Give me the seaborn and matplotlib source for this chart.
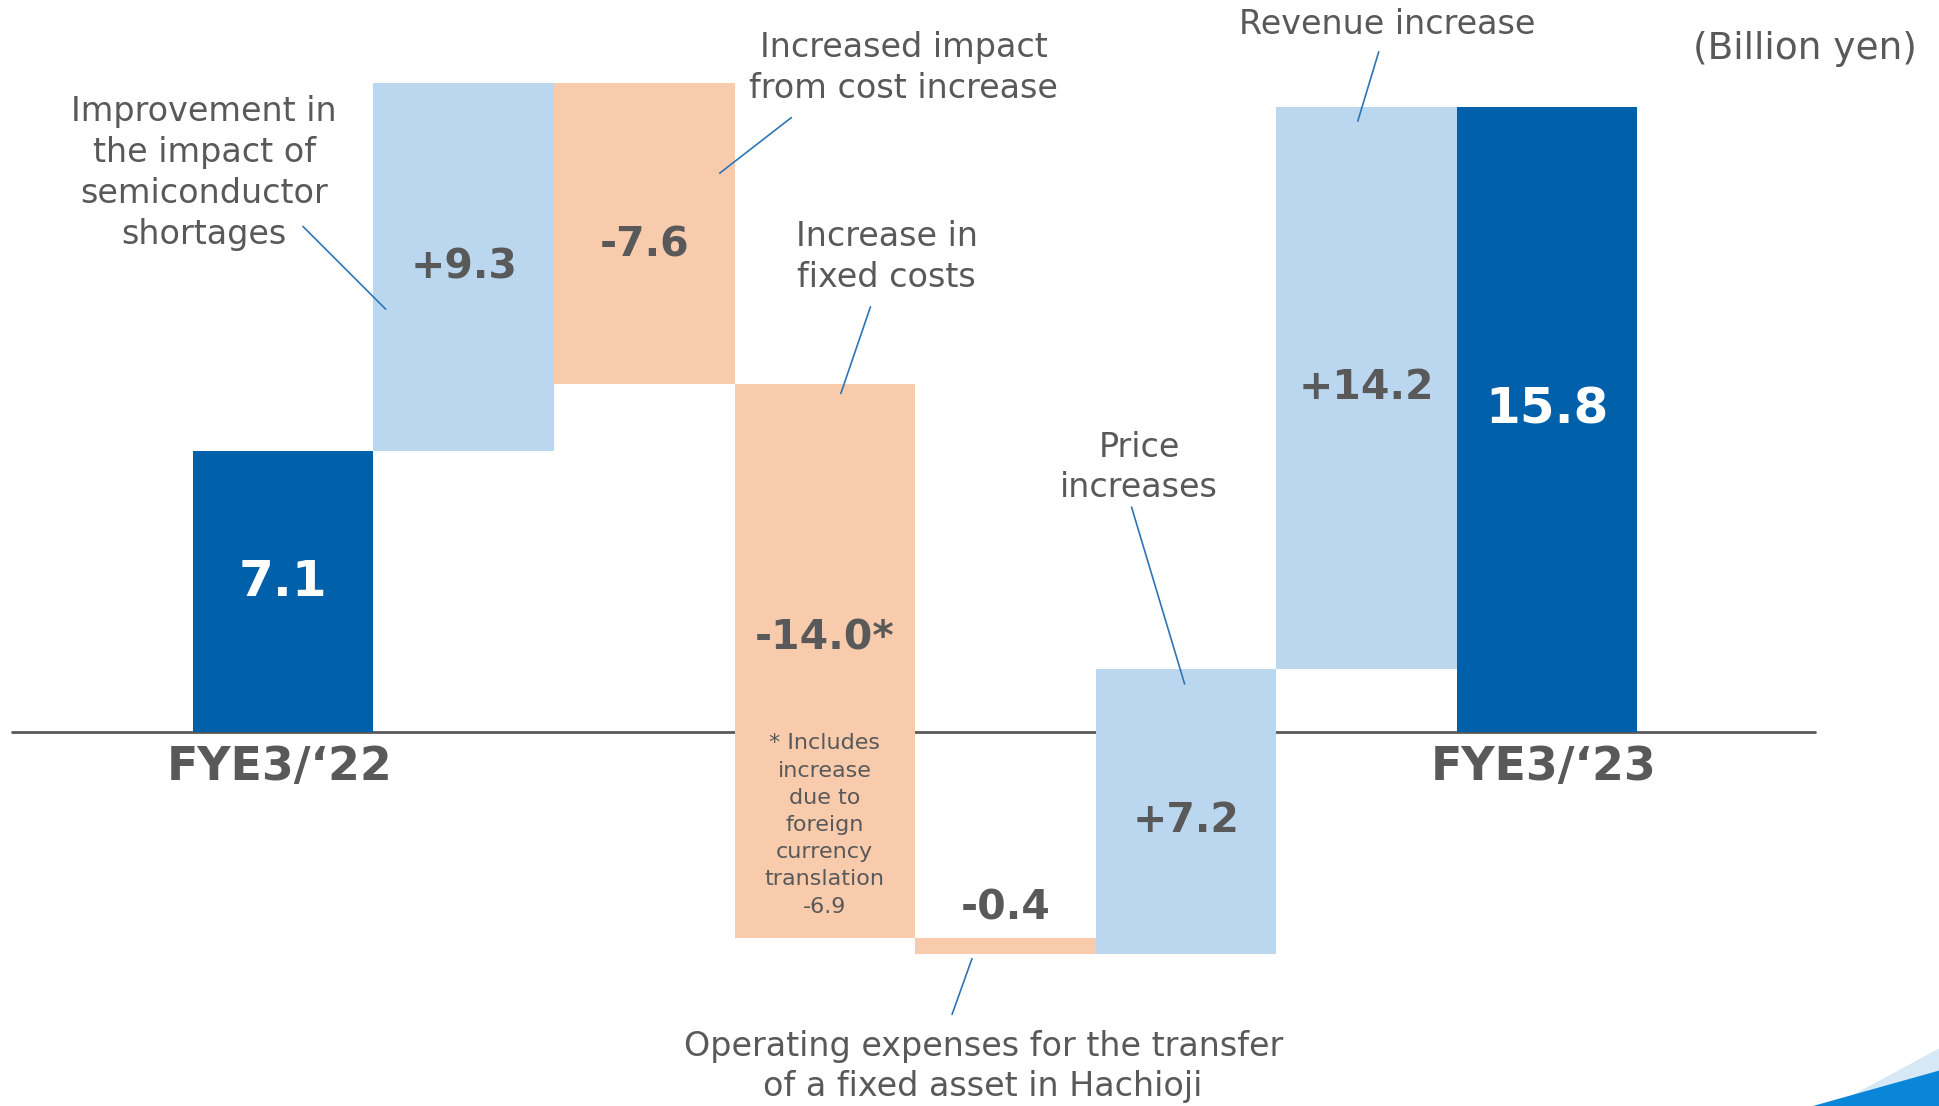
import numpy as np
import seaborn as sns
import matplotlib.pyplot as plt
from matplotlib.patches import Polygon

# Operating income bridge, FYE3/'22 -> FYE3/'23 (billion yen)
steps = ["FYE3/'22", "Semiconductor", "Cost increase", "Fixed costs",
         "Hachioji transfer", "Price increases", "Revenue increase", "FYE3/'23"]
values = [7.1, 9.3, -7.6, -14.0, -0.4, 7.2, 14.2, 15.8]
kinds = ["total", "up", "down", "down", "down", "up", "up", "total"]
value_labels = ["7.1", "+9.3", "-7.6", "-14.0*", "-0.4", "+7.2", "+14.2", "15.8"]
axis_labels = ["FYE3/\u201822", "FYE3/\u201823"]

callouts = [
    "Improvement in\nthe impact of\nsemiconductor\nshortages",
    "Increased impact\nfrom cost increase",
    "Increase in\nfixed costs",
    "Operating expenses for the transfer\nof a fixed asset in Hachioji",
    "Price\nincreases",
    "Revenue increase",
]
footnote = "* Includes\nincrease\ndue to\nforeign\ncurrency\ntranslation\n-6.9"
unit_label = "(Billion yen)"

DARK = "#0061AA"
LIGHT = "#BAD7EF"
PEACH = "#F7CBAC"
GRAY = "#595959"
LEADER = "#2E75B6"

sns.set_theme(style="white")
plt.rcParams["font.family"] = ["DejaVu Sans"]

fig = plt.figure(figsize=(19.39, 11.06), dpi=100)
ax = fig.add_axes([0, 0, 1, 1])
ax.set_xlim(-1.568, 9.171)
ax.set_ylim(-9.44, 18.5)
ax.axis("off")

# waterfall geometry from the running total
bottoms, heights = [], []
running = 0.0
for v, k in zip(values, kinds):
    if k == "total":
        bottoms.append(0.0)
        heights.append(v)
        running = v
    else:
        bottoms.append(running)
        heights.append(v)
        running += v

colors = [DARK if k == "total" else LIGHT if k == "up" else PEACH for k in kinds]
x = np.arange(len(values))

ax.plot([-1.5, 8.486], [0, 0], color=GRAY, lw=2.0, zorder=1)
ax.bar(x, heights, bottom=bottoms, width=1.0, color=colors, linewidth=0, zorder=2)

# value labels (a few nudged to sit where the original puts them)
nudge = {2: -0.3, 5: -0.25}
for i, (lab, k) in enumerate(zip(value_labels, kinds)):
    cy = bottoms[i] + heights[i] / 2
    if k == "total":
        ax.text(x[i], cy + 0.25, lab, ha="center", va="center", color="white",
                fontsize=36, fontweight="bold", zorder=3)
        continue
    if i == 3:
        cy = 2.375
    elif i == 4:
        cy = bottoms[i] + 0.75
    cy += nudge.get(i, 0.0)
    ax.text(x[i], cy, lab, ha="center", va="center", color=GRAY,
            fontsize=29.5, fontweight="bold", zorder=3)

ax.text(3.0, -2.34, footnote, ha="center", va="center", color=GRAY,
        fontsize=16, linespacing=1.45, zorder=3)

for xi, lab in zip([x[0], x[-1]], axis_labels):
    ax.text(xi - 0.02, -0.88, lab, ha="center", va="center", color=GRAY,
            fontsize=33, fontweight="bold")

# callouts with leader lines
callout_pos = [(-0.438, 14.125), (3.438, 16.78), (3.342, 12.0),
               (3.877, -8.44), (4.74, 6.69), (6.116, 17.875)]
leaders = [((0.11, 12.78), (0.568, 10.69)),
           ((2.815, 15.53), (2.418, 14.125)),
           ((3.253, 10.75), (3.089, 8.56)),
           ((3.705, -7.125), (3.815, -5.72)),
           ((4.699, 5.69), (4.993, 1.22)),
           ((6.068, 17.19), (5.952, 15.44))]
for txt, (tx, ty), (p0, p1) in zip(callouts, callout_pos, leaders):
    ax.text(tx, ty, txt, ha="center", va="center", color=GRAY,
            fontsize=24, linespacing=1.3)
    ax.plot([p0[0], p1[0]], [p0[1], p1[1]], color=LEADER, lw=1.2, zorder=4)

ax.text(9.048, 17.25, unit_label, ha="right", va="center", color=GRAY, fontsize=27)

# decorative swoosh in the bottom-right corner
fig.patches.append(Polygon([(0.945, 0.0), (1.0, 0.052), (1.0, 0.0)],
                           closed=True, transform=fig.transFigure,
                           facecolor="#D6E8F6", edgecolor="none"))
fig.patches.append(Polygon([(0.935, 0.0), (1.0, 0.032), (1.0, 0.0)],
                           closed=True, transform=fig.transFigure,
                           facecolor="#0A86D8", edgecolor="none"))

fig.savefig("out.png", dpi=100)
